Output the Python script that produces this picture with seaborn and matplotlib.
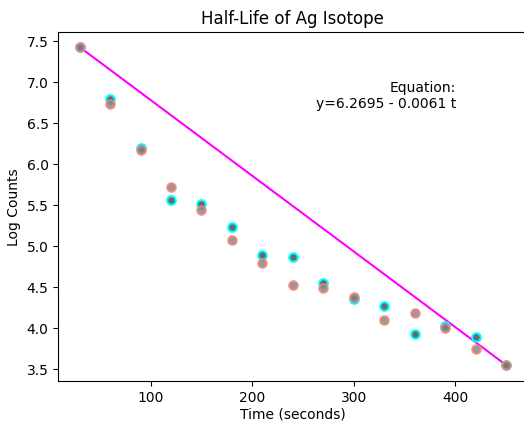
import matplotlib
matplotlib.use("Agg")
import matplotlib.pyplot as plt
import numpy as np
import pandas as pd
import seaborn as sns

time_s = [30, 60, 90, 120, 150, 180, 210, 240, 270, 300, 330, 360, 390, 420, 450]
log_counts_a = [7.43, 6.80, 6.20, 5.56, 5.51, 5.23, 4.89, 4.87, 4.55, 4.36, 4.27, 3.93, 4.03, 3.89, 3.55]
log_counts_b = [7.43, 6.74, 6.18, 5.72, 5.44, 5.07, 4.79, 4.53, 4.49, 4.38, 4.10, 4.19, 4.00, 3.74, 3.55]
equation_text = "Equation:\ny=6.2695 - 0.0061 t"

df = pd.DataFrame({"t": time_s, "a": log_counts_a, "b": log_counts_b})

fig = plt.figure(figsize=(5.24, 4.23), dpi=100)
ax = fig.add_axes([0.1113, 0.0985, 0.895, 0.825])

sns.scatterplot(data=df, x="t", y="a", ax=ax, color="dimgray",
                edgecolor="cyan", linewidth=1.5, s=38, zorder=3)
sns.scatterplot(data=df, x="t", y="b", ax=ax, color="gray",
                edgecolor="salmon", linewidth=1.5, s=38, alpha=0.8, zorder=4)
# line between first and last measurement
sns.lineplot(x=[time_s[0], time_s[-1]], y=[log_counts_b[0], log_counts_b[-1]],
             ax=ax, color="magenta", linewidth=1.5, zorder=2)

ax.text(401, 6.83, equation_text, ha="right", va="center", fontsize=10)
ax.set_title("Half-Life of Ag Isotope")
ax.set_xlabel("Time (seconds)", labelpad=2)
ax.set_ylabel("Log Counts")
ax.set_xlim(9, 471)
ax.set_ylim(3.35, 7.61)

fig.savefig("out.png", dpi=100)
